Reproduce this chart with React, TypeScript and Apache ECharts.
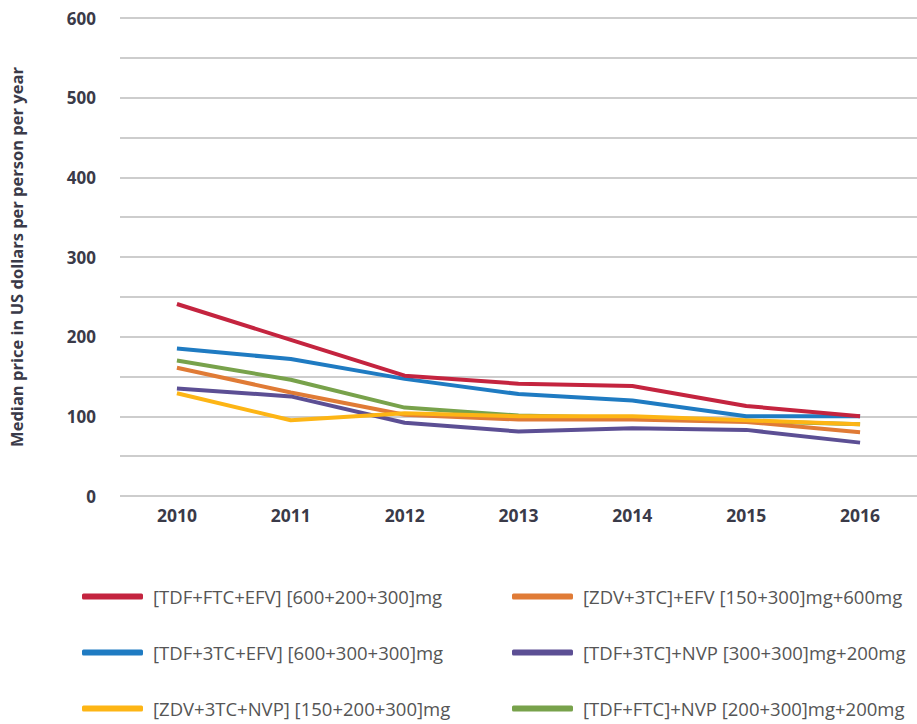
import React, { useEffect, useRef } from "react";
import * as echarts from "echarts";

const years = ["2010", "2011", "2012", "2013", "2014", "2015", "2016"];

const tdfFtcEfv = [241, 196, 151, 141, 138, 113, 100];
const zdv3tcEfv = [161, 130, 102, 96, 96, 93, 80];
const tdf3tcEfv = [185, 172, 147, 128, 120, 100, 100];
const tdf3tcNvp = [135, 125, 92, 81, 85, 83, 67];
const zdv3tcNvp = [129, 95, 104, 100, 100, 95, 90];
const tdfFtcNvp = [170, 146, 111, 101, 98, 94, 90];

const names = [
  "[TDF+FTC+EFV] [600+200+300]mg",
  "[ZDV+3TC]+EFV [150+300]mg+600mg",
  "[TDF+3TC+EFV] [600+300+300]mg",
  "[TDF+3TC]+NVP [300+300]mg+200mg",
  "[ZDV+3TC+NVP] [150+200+300]mg",
  "[TDF+FTC]+NVP [200+300]mg+200mg",
];
const colors = ["#C4243F", "#E07B36", "#1F7BC2", "#5C4F94", "#FDB515", "#78A24B"];
const seriesData = [tdfFtcEfv, zdv3tcEfv, tdf3tcEfv, tdf3tcNvp, zdv3tcNvp, tdfFtcNvp];

// draw order (bottom to top)
const drawOrder = [5, 1, 3, 4, 2, 0];

export default function App() {
  const ref = useRef<HTMLDivElement>(null);
  useEffect(() => {
    if (!ref.current) return;
    const chart = echarts.init(ref.current, null, { renderer: "svg" });
    const font = "'Open Sans', 'Noto Sans', sans-serif";
    const legendCommon = {
      orient: "vertical" as const,
      icon: "roundRect",
      itemWidth: 61,
      itemHeight: 6,
      itemGap: 37,
      top: 587,
      height: 137,
      padding: 0,
      selectedMode: false,
      textStyle: {
        fontFamily: font,
        fontSize: 18.5,
        color: "#555",
        padding: [0, 0, 0, 5],
      },
    };
    chart.setOption({
      animation: false,
      textStyle: { fontFamily: font },
      grid: { left: 117, right: -3, top: 18, bottom: 228, containLabel: false },
      legend: [
        { ...legendCommon, left: 82, data: [names[0], names[2], names[4]] },
        { ...legendCommon, left: 512, data: [names[1], names[3], names[5]] },
      ],
      xAxis: {
        type: "category",
        data: years,
        boundaryGap: true,
        axisLine: { show: false },
        axisTick: { show: false },
        axisLabel: {
          margin: 10,
          fontSize: 17.5,
          fontWeight: "bold",
          color: "#3a3a48",
          fontFamily: font,
        },
      },
      yAxis: {
        type: "value",
        min: 0,
        max: 600,
        interval: 50,
        name: "Median price in US dollars per person per year",
        nameLocation: "middle",
        nameGap: 95,
        nameTextStyle: {
          fontSize: 16.5,
          fontWeight: "bold",
          color: "#3a3a48",
          fontFamily: font,
        },
        axisLine: { show: false },
        axisTick: { show: false },
        axisLabel: {
          margin: 24,
          fontSize: 17,
          fontWeight: "bold",
          color: "#3a3a48",
          fontFamily: font,
          formatter: (v: number) => (v % 100 === 0 ? String(v) : ""),
        },
        splitLine: { lineStyle: { color: "#bdbdbd", width: 1.5 } },
      },
      series: drawOrder.map((i) => ({
        type: "line",
        name: names[i],
        data: seriesData[i],
        color: colors[i],
        symbol: "none",
        lineStyle: { width: 4, color: colors[i] },
        z: 2,
      })),
    });
    return () => chart.dispose();
  }, []);
  return (
    <div
      ref={ref}
      style={{ position: "absolute", left: 0, top: 0, width: 917, height: 724, background: "#fff" }}
    />
  );
}
